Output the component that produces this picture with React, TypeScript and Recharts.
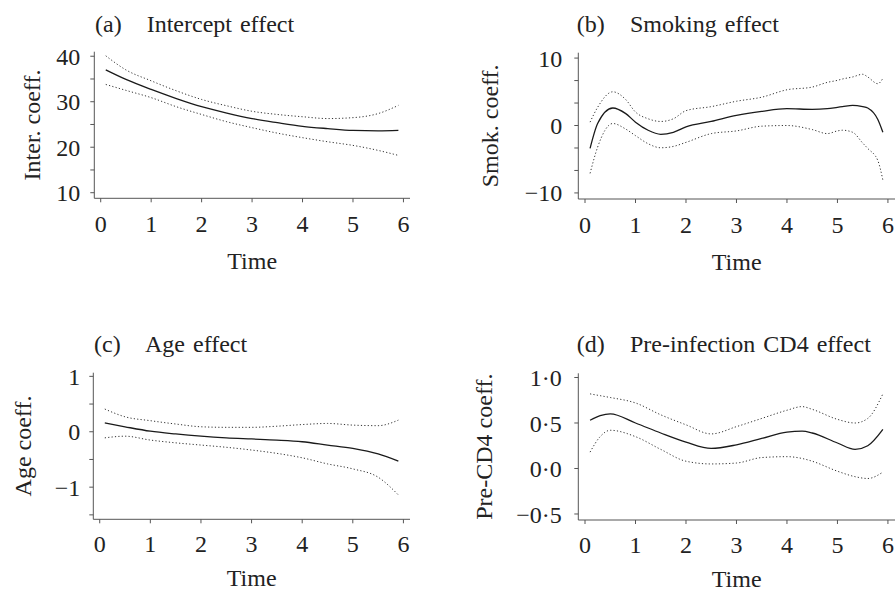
import React from "react";
import { LineChart, Line, XAxis, YAxis } from "recharts";

const SERIF = '"Liberation Serif", "DejaVu Serif", serif';
const INK = "#222";

// (a) intercept
const timeA = [0.1, 0.5, 1, 1.5, 2, 2.5, 3, 3.5, 4, 4.5, 5, 5.5, 5.9];
const interMid = [37.0, 34.9, 32.7, 30.7, 28.9, 27.5, 26.3, 25.4, 24.6, 24.1, 23.7, 23.6, 23.7];
const interUp = [40.1, 37.0, 34.6, 32.4, 30.5, 29.1, 27.9, 27.2, 26.7, 26.3, 26.5, 27.4, 29.2];
const interLo = [33.8, 32.5, 30.9, 28.9, 27.2, 25.6, 24.3, 23.1, 22.1, 21.2, 20.4, 19.3, 18.2];

// (b) smoking
const timeB = [0.1, 0.25, 0.55, 0.8, 1, 1.25, 1.5, 1.75, 2, 2.5, 3, 3.5, 4, 4.5, 4.8, 5, 5.1, 5.3, 5.5, 5.6, 5.8, 5.9];
const smokMid = [-3.4, 0.3, 2.6, 1.8, 0.5, -0.7, -1.3, -1.0, -0.2, 0.6, 1.5, 2.1, 2.5, 2.4, 2.5, 2.7, 2.8, 3.0, 2.8, 2.6, 0.9, -1.0];
const smokUp = [0.5, 2.7, 5.0, 3.9, 2.0, 1.0, 0.6, 1.0, 2.2, 2.8, 3.6, 4.2, 5.3, 5.7, 6.4, 6.7, 6.9, 7.2, 7.6, 7.2, 6.2, 7.0];
const smokLo = [-7.1, -3.2, 0.3, -0.5, -1.5, -2.7, -3.3, -3.1, -2.5, -1.2, -0.8, -0.1, 0.0, -0.6, -1.2, -0.8, -0.7, -1.0, -2.6, -3.4, -5.2, -8.1];

// (c) age
const timeC = [0.1, 0.5, 1, 1.5, 2, 2.5, 3, 3.5, 4, 4.5, 5, 5.5, 5.9];
const ageMid = [0.16, 0.09, 0.01, -0.04, -0.08, -0.11, -0.13, -0.15, -0.18, -0.24, -0.3, -0.4, -0.53];
const ageUp = [0.41, 0.27, 0.2, 0.14, 0.09, 0.08, 0.08, 0.1, 0.13, 0.15, 0.12, 0.11, 0.21];
const ageLo = [-0.11, -0.08, -0.15, -0.2, -0.24, -0.28, -0.33, -0.39, -0.47, -0.58, -0.67, -0.82, -1.14];

// (d) pre-infection CD4
const timeD = [0.1, 0.3, 0.5, 1, 1.5, 2, 2.5, 3, 3.5, 4, 4.3, 4.5, 5, 5.35, 5.6, 5.9];
const cd4Mid = [0.53, 0.58, 0.6, 0.5, 0.39, 0.29, 0.22, 0.26, 0.33, 0.4, 0.41, 0.39, 0.28, 0.21, 0.25, 0.43];
const cd4Up = [0.82, 0.8, 0.78, 0.72, 0.59, 0.48, 0.38, 0.46, 0.55, 0.64, 0.68, 0.65, 0.54, 0.5, 0.55, 0.82];
const cd4Lo = [0.18, 0.35, 0.42, 0.35, 0.21, 0.08, 0.05, 0.06, 0.12, 0.13, 0.11, 0.08, -0.03, -0.09, -0.11, -0.04];

const timeTicks = [0, 1, 2, 3, 4, 5, 6];
const interTicks = [10, 15, 20, 25, 30, 35, 40];
const smokTicks = [-10, -20 / 3, -10 / 3, 0, 10 / 3, 20 / 3, 10];
const ageTicks = [-1.5, -1, -0.5, 0, 0.5, 1];
const cd4Ticks = [-0.5, 0, 0.5, 1];

const rows = (t: number[], mid: number[], up: number[], lo: number[]) =>
  t.map((x, i) => ({ t: x, mid: mid[i], up: up[i], lo: lo[i] }));

const minus = (s: string) => s.replace("-", "\u2212");
const intOnly = (v: number) => (Math.abs(v - Math.round(v)) < 1e-6 && Math.round(v) % 10 === 0 ? minus(String(Math.round(v))) : "");
const unitOnly = (v: number) => (Number.isInteger(v) ? minus(String(v)) : "");
const dotFmt = (v: number) => minus(v.toFixed(1).replace(".", "\u00b7"));

const tickStyle = { fill: INK, fontSize: 24, fontFamily: SERIF };

type PanelProps = {
  left: number; top: number; width: number; height: number;
  margin: { top: number; right: number; bottom: number; left: number };
  yWidth: number; data: any[]; xDomain: [number, number]; yDomain: [number, number];
  yTicks: number[]; yFmt: (v: number) => string; yLabel: string; yLabelX: number;
  yTickMargin: number; xTickMargin: number; timeOffset: number; frameRight: boolean;
};

const Panel = (p: PanelProps) => (
  <div style={{ position: "absolute", left: p.left, top: p.top }}>
    <LineChart width={p.width} height={p.height} data={p.data} margin={p.margin}>
      <XAxis
        dataKey="t" type="number" domain={p.xDomain} allowDataOverflow ticks={timeTicks}
        tickSize={4} tickMargin={p.xTickMargin} stroke="#555" tick={tickStyle} height={72}
        label={{ value: "Time", position: "insideBottom", offset: p.timeOffset, style: { fill: INK, fontSize: 24, fontFamily: SERIF } }}
      />
      <XAxis xAxisId="top" orientation="top" dataKey="t" type="number" domain={p.xDomain} allowDataOverflow tick={false} tickLine={false} height={0} stroke="#555" />
      <YAxis
        type="number" domain={p.yDomain} allowDataOverflow ticks={p.yTicks} tickFormatter={p.yFmt}
        tickSize={4} tickMargin={p.yTickMargin} stroke="#555" tick={tickStyle} width={p.yWidth} interval={0}
        label={{ value: p.yLabel, angle: -90, position: "insideLeft", offset: p.yLabelX, style: { fill: INK, fontSize: 24, fontFamily: SERIF, textAnchor: "middle" } }}
      />
      {p.frameRight && (
        <YAxis yAxisId="right" orientation="right" type="number" domain={p.yDomain} allowDataOverflow tick={false} tickLine={false} width={0} stroke="#555" />
      )}
      <Line dataKey="up" type="monotone" stroke="#333" strokeWidth={1} strokeDasharray="1.2 2.2" dot={false} isAnimationActive={false} />
      <Line dataKey="lo" type="monotone" stroke="#333" strokeWidth={1} strokeDasharray="1.2 2.2" dot={false} isAnimationActive={false} />
      <Line dataKey="mid" type="monotone" stroke="#1a1a1a" strokeWidth={1.3} dot={false} isAnimationActive={false} />
    </LineChart>
  </div>
);

const titles = [
  { tag: "(a)", text: "Intercept effect", x: 95, x2: 146.7, y: 31.7 },
  { tag: "(b)", text: "Smoking effect", x: 576.7, x2: 630, y: 31.7 },
  { tag: "(c)", text: "Age effect", x: 94, x2: 145, y: 352 },
  { tag: "(d)", text: "Pre-infection CD4 effect", x: 576.7, x2: 630, y: 352 },
];

export default function App() {
  return (
    <div style={{ position: "absolute", left: 0, top: 0, width: 895, height: 592, background: "#fff", fontFamily: SERIF, overflow: "hidden" }}>
      <Panel
        left={0} top={0} width={450} height={290}
        margin={{ top: 51.7, right: 40, bottom: 19.7, left: 0 }}
        yWidth={94.3} data={rows(timeA, interMid, interUp, interLo)}
        xDomain={[-0.127, 6.13]} yDomain={[8.77, 41.0]} yTicks={interTicks} yFmt={intOnly}
        yLabel="Inter. coeff." yLabelX={31} yTickMargin={10} xTickMargin={13} timeOffset={1} frameRight
      />
      <Panel
        left={447} top={0} width={448} height={290}
        margin={{ top: 52.7, right: 0, bottom: 19, left: 0 }}
        yWidth={131.3} data={rows(timeB, smokMid, smokUp, smokLo)}
        xDomain={[-0.133, 6.14]} yDomain={[-10.9, 10.8]} yTicks={smokTicks} yFmt={intOnly}
        yLabel="Smok. coeff." yLabelX={42} yTickMargin={12} xTickMargin={13} timeOffset={1} frameRight={false}
      />
      <Panel
        left={0} top={290} width={450} height={302}
        margin={{ top: 82.7, right: 40, bottom: 0.7, left: 0 }}
        yWidth={93.3} data={rows(timeC, ageMid, ageUp, ageLo)}
        xDomain={[-0.127, 6.13]} yDomain={[-1.58, 1.066]} yTicks={ageTicks} yFmt={unitOnly}
        yLabel="Age coeff." yLabelX={22} yTickMargin={9} xTickMargin={12} timeOffset={5.5} frameRight
      />
      <Panel
        left={447} top={290} width={448} height={302}
        margin={{ top: 83.3, right: 0, bottom: 0, left: 0 }}
        yWidth={131.3} data={rows(timeD, cd4Mid, cd4Up, cd4Lo)}
        xDomain={[-0.133, 6.14]} yDomain={[-0.566, 1.046]} yTicks={cd4Ticks} yFmt={dotFmt}
        yLabel="Pre-CD4 coeff." yLabelX={36.3} yTickMargin={12.6} xTickMargin={12} timeOffset={5} frameRight={false}
      />
      <svg width={895} height={592} style={{ position: "absolute", left: 0, top: 0, pointerEvents: "none" }}>
        {titles.map((t) => (
          <g key={t.tag} fontFamily={SERIF} fontSize={24} fill={INK}>
            <text x={t.x} y={t.y}>{t.tag}</text>
            <text x={t.x2} y={t.y} wordSpacing={2}>{t.text}</text>
          </g>
        ))}
      </svg>
    </div>
  );
}
